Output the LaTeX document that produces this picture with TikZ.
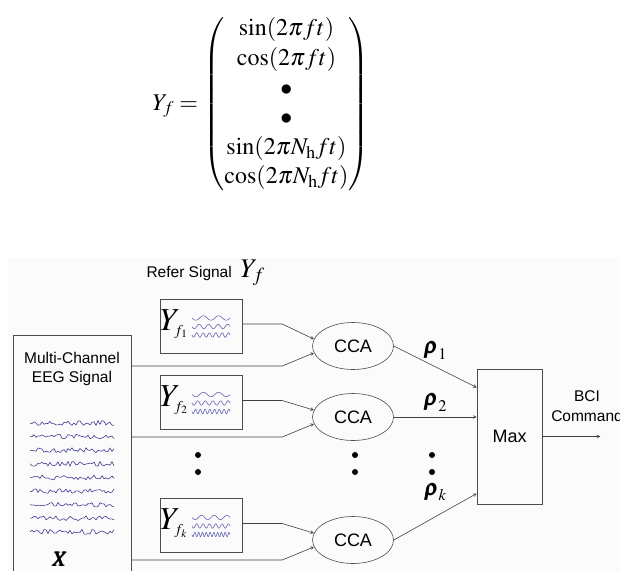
\documentclass[tikz,border=0pt]{standalone}
\usepackage{amsmath}
\usepackage{mathptmx}
\usepackage{bm}
\usepackage{fontspec}
\setmainfont{Liberation Serif}
\setsansfont{Liberation Sans}
\usepackage{xcolor}
\usetikzlibrary{shapes.geometric, arrows}
\usetikzlibrary{positioning}
\definecolor{eegblue}{HTML}{32328C}
\definecolor{waveblue}{HTML}{6464B4}
\tikzstyle{conn} = [line width=0.6pt,->,>=stealth,draw=black!75]
\tikzstyle{refbox} = [draw=black!70, line width=0.6pt, minimum width=82pt, minimum height=54pt, inner sep=0pt]
\tikzstyle{ccanode} = [ellipse, draw=black!70, line width=0.6pt, minimum width=81pt, minimum height=47pt, font=\sffamily\fontsize{18}{20}\selectfont]
\tikzstyle{dot} = [circle, fill=black, inner sep=0pt, minimum size=6pt]
\tikzstyle{sans} = [font=\sffamily\fontsize{15.5}{19.5}\selectfont, align=center]
\newcommand{\reflabel}[1]{\fontsize{32}{32}\selectfont$Y_{\mbox{\fontsize{15}{15}\selectfont$f_{#1}$}}$}

\begin{document}
\begin{tikzpicture}[x=1pt, y=-1pt]
  \useasboundingbox (0,0) rectangle (620,570);
  \fill[black!1.5] (8,258) rectangle (620,575);

  % reference signal formula
  \node (yf) at (261,104) {\fontsize{24}{29}\selectfont\renewcommand\arraystretch{1.02}%
    $Y_f = \begin{pmatrix} \sin(2\pi f t)\\ \cos(2\pi f t)\\ \bullet\\ \bullet\\
      \sin(2\pi N_{\mathrm{h}} f t)\\ \cos(2\pi N_{\mathrm{h}} f t)\end{pmatrix}$};

  \node[sans, anchor=west] (title) at (143,273) {Refer Signal\ \ \fontsize{27}{27}\selectfont$Y_f$};

  % EEG input
  \node[draw=black!70, line width=0.6pt, minimum width=118pt, minimum height=245pt] (eeg) at (72,457.5) {};
  \node[sans, below=14pt of eeg.north] (eegtxt) {Multi-Channel\\EEG Signal};
  \node (xlab) at (60,559) {\fontsize{21}{21}\selectfont$\bm{X}$};
  \pgfmathsetseed{7}
  \foreach \k in {0,...,8}
    \draw[eegblue, line width=0.55pt] (30,{423+13.6*\k})
      \foreach \i in {1,...,42}{ -- ({30+2*\i},{423+13.6*\k+2.4*rand}) };

  % reference boxes
  \node[refbox] (ref1) at (201,326) {};
  \node[refbox] (ref2) at (201,402.5) {};
  \node[refbox] (refk) at (201,525.5) {};
  \node[anchor=west, inner sep=0pt] (lab1) at ([yshift=2pt]ref1.west) {\reflabel{1}};
  \node[anchor=west, inner sep=0pt] (lab2) at ([yshift=2pt]ref2.west) {\reflabel{2}};
  \node[anchor=west, inner sep=0pt] (labk) at ([yshift=2pt]refk.west) {\reflabel{k}};
  \foreach \n/\fa/\fb/\fc in {ref1/2.5/4/6, ref2/2.5/5/8, refk/3/6/10}{
    \begin{scope}[shift={(\n.center)}]
      \draw[waveblue, line width=0.6pt] plot[domain=0:38, samples=80] ({-9+\x},{-8+2.2*sin((\x/38)*\fa*360)});
      \draw[waveblue, line width=0.6pt] plot[domain=0:38, samples=80] ({-9+\x},{0.5+2.2*sin((\x/38)*\fb*360)});
      \draw[waveblue, line width=0.6pt] plot[domain=0:38, samples=120] ({-9+\x},{9+2.2*sin((\x/38)*\fc*360)});
    \end{scope}
  }

  % CCA and Max
  \node[ccanode] (cca1) at (353,346) {CCA};
  \node[ccanode] (cca2) at (353,417) {CCA};
  \node[ccanode] (cca3) at (353,540) {CCA};
  \node[draw=black!70, line width=0.6pt, minimum width=65pt, minimum height=135pt,
        font=\sffamily\fontsize{18}{20}\selectfont] (max) at (509.5,436.5) {Max};

  \node[dot] (d1) at (198,455) {};
  \node[dot] (d2) at (198,472) {};
  \node[dot] (d3) at (355,455) {};
  \node[dot] (d4) at (355,472) {};
  \node[dot] (d5) at (432,455) {};
  \node[dot] (d6) at (432,472) {};

  % inputs to CCA
  \foreach \r/\c in {ref1/cca1, ref2/cca2, refk/cca3}{
    \coordinate (x\c) at ([yshift=-20pt]eeg.east |- \c);
    \draw[conn] ([yshift=2pt]\r.east) -- ([xshift=-30pt,yshift=2pt]\c.west |- \r.east) -- (\c.170);
    \draw[conn] (x\c) -- ([xshift=-30pt]\c.west |- x\c) -- (\c.190);
  }

  % correlations
  \draw[conn] (cca1.east) -- node[above=4pt] {\fontsize{22}{22}\selectfont$\bm{\rho}_1$} ([yshift=49pt]max.west);
  \draw[conn] (cca2.east) -- node[above=2pt] {\fontsize{22}{22}\selectfont$\bm{\rho}_2$} (cca2.east -| max.west);
  \draw[conn] (cca3.east) -- node[above=12pt] {\fontsize{22}{22}\selectfont$\bm{\rho}_k$} ([yshift=-57pt]max.west);

  % output
  \coordinate (out) at ([xshift=58pt]max.east);
  \draw[conn] (max.east) -- (out);
  \node[sans] (cmd) at (587,406) {BCI\\Command};
\end{tikzpicture}
\end{document}
